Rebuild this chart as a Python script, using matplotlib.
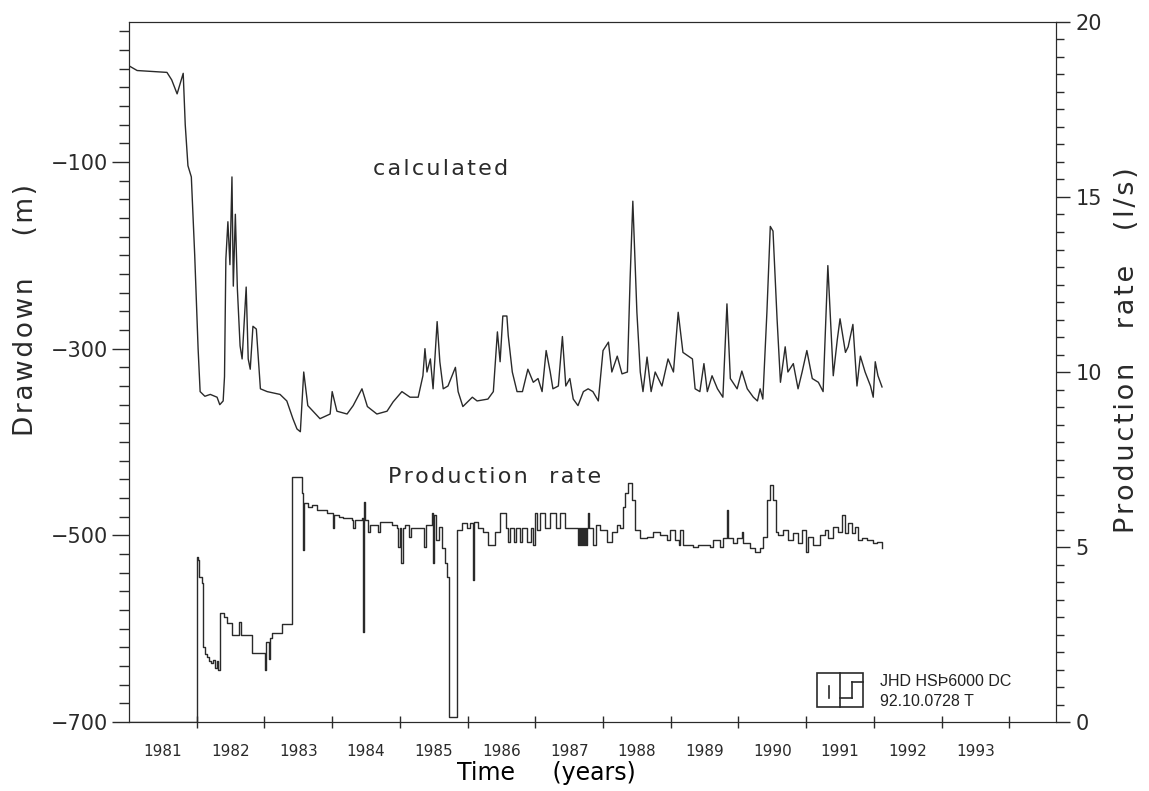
import numpy as np
import matplotlib.pyplot as plt
from matplotlib.ticker import MultipleLocator, FixedLocator, NullFormatter
from matplotlib.patches import Rectangle
from matplotlib.lines import Line2D

# calculated drawdown (m)
calc_year = [1981.00, 1981.12, 1981.56, 1981.63, 1981.71, 1981.76, 1981.80, 1981.83, 1981.87, 1981.92,
             1981.97, 1982.02, 1982.05, 1982.12, 1982.20, 1982.30, 1982.34, 1982.39, 1982.41, 1982.43,
             1982.46, 1982.49, 1982.52, 1982.54, 1982.57, 1982.60, 1982.64, 1982.67, 1982.73, 1982.76,
             1982.79, 1982.83, 1982.88, 1982.94, 1983.04, 1983.23, 1983.33, 1983.42, 1983.48, 1983.53,
             1983.58, 1983.64, 1983.82, 1983.97, 1984.00, 1984.07, 1984.22, 1984.31, 1984.44, 1984.52,
             1984.66, 1984.81, 1984.90, 1985.03, 1985.15, 1985.27, 1985.34, 1985.37, 1985.40, 1985.45,
             1985.49, 1985.55, 1985.59, 1985.64, 1985.71, 1985.82, 1985.86, 1985.93, 1986.07, 1986.14,
             1986.30, 1986.38, 1986.44, 1986.48, 1986.52, 1986.58, 1986.60, 1986.66, 1986.73, 1986.81,
             1986.89, 1986.97, 1987.04, 1987.10, 1987.16, 1987.22, 1987.26, 1987.34, 1987.40, 1987.45,
             1987.51, 1987.56, 1987.63, 1987.71, 1987.78, 1987.85, 1987.93, 1988.00, 1988.08, 1988.13,
             1988.21, 1988.28, 1988.36, 1988.40, 1988.44, 1988.50, 1988.55, 1988.59, 1988.65, 1988.71,
             1988.77, 1988.87, 1988.96, 1989.04, 1989.11, 1989.18, 1989.32, 1989.36, 1989.43, 1989.49,
             1989.54, 1989.61, 1989.69, 1989.77, 1989.83, 1989.88, 1989.98, 1990.05, 1990.13, 1990.22,
             1990.28, 1990.32, 1990.36, 1990.42, 1990.47, 1990.51, 1990.57, 1990.62, 1990.69, 1990.73,
             1990.81, 1990.88, 1990.94, 1991.01, 1991.09, 1991.18, 1991.25, 1991.32, 1991.40, 1991.46,
             1991.50, 1991.58, 1991.62, 1991.69, 1991.75, 1991.80, 1991.87, 1991.95, 1991.99, 1992.02,
             1992.06, 1992.12]
calc_dd = [3, -2, -4, -12, -27, -15, -5, -60, -104, -116,
           -200, -300, -346, -351, -349, -352, -360, -356, -330, -204,
           -164, -210, -116, -233, -156, -236, -297, -311, -234, -311,
           -322, -276, -279, -343, -346, -349, -356, -375, -386, -389,
           -325, -361, -375, -370, -346, -367, -370, -361, -343, -362,
           -370, -367, -357, -346, -352, -352, -329, -300, -325, -311,
           -343, -271, -314, -343, -340, -320, -346, -362, -352, -356,
           -354, -346, -282, -314, -265, -265, -286, -325, -346, -346,
           -322, -336, -332, -346, -302, -325, -343, -340, -287, -340,
           -332, -354, -361, -346, -343, -346, -356, -302, -293, -325,
           -308, -327, -325, -225, -142, -261, -325, -346, -309, -346,
           -325, -340, -311, -325, -261, -304, -311, -343, -346, -316,
           -346, -329, -343, -352, -252, -332, -343, -324, -343, -352,
           -356, -343, -354, -261, -169, -174, -268, -336, -298, -325,
           -316, -343, -325, -302, -332, -336, -346, -211, -329, -290,
           -268, -304, -298, -274, -340, -308, -325, -340, -352, -314,
           -329, -341]

# production rate (l/s), stepwise
prod_year = [1981.00, 1982.00, 1982.02, 1982.04, 1982.08, 1982.09, 1982.12, 1982.15, 1982.18, 1982.21,
             1982.24, 1982.27, 1982.30, 1982.32, 1982.34, 1982.40, 1982.45, 1982.52, 1982.63, 1982.65,
             1982.82, 1983.01, 1983.03, 1983.06, 1983.08, 1983.11, 1983.26, 1983.41, 1983.56, 1983.57,
             1983.59, 1983.64, 1983.70, 1983.78, 1983.92, 1984.01, 1984.03, 1984.10, 1984.16, 1984.30,
             1984.31, 1984.33, 1984.44, 1984.46, 1984.47, 1984.49, 1984.53, 1984.56, 1984.68, 1984.70,
             1984.88, 1984.96, 1984.97, 1985.00, 1985.02, 1985.04, 1985.08, 1985.14, 1985.16, 1985.36,
             1985.38, 1985.48, 1985.49, 1985.51, 1985.54, 1985.58, 1985.62, 1985.66, 1985.70, 1985.73,
             1985.84, 1985.92, 1985.99, 1986.04, 1986.08, 1986.09, 1986.15, 1986.23, 1986.30, 1986.40,
             1986.48, 1986.56, 1986.60, 1986.63, 1986.69, 1986.72, 1986.78, 1986.80, 1986.88, 1986.94,
             1986.97, 1987.00, 1987.03, 1987.07, 1987.15, 1987.22, 1987.30, 1987.37, 1987.44, 1987.63,
             1987.64, 1987.66, 1987.67, 1987.69, 1987.70, 1987.72, 1987.73, 1987.75, 1987.76, 1987.78,
             1987.80, 1987.85, 1987.90, 1987.96, 1988.06, 1988.13, 1988.21, 1988.25, 1988.29, 1988.33,
             1988.37, 1988.43, 1988.47, 1988.55, 1988.65, 1988.74, 1988.84, 1988.95, 1988.99, 1989.07,
             1989.12, 1989.14, 1989.18, 1989.33, 1989.40, 1989.58, 1989.63, 1989.73, 1989.77, 1989.83,
             1989.85, 1989.92, 1989.98, 1990.05, 1990.07, 1990.17, 1990.25, 1990.32, 1990.36, 1990.42,
             1990.47, 1990.51, 1990.55, 1990.59, 1990.66, 1990.73, 1990.81, 1990.88, 1990.94, 1990.99,
             1991.03, 1991.10, 1991.20, 1991.28, 1991.32, 1991.40, 1991.47, 1991.53, 1991.58, 1991.62,
             1991.68, 1991.72, 1991.77, 1991.83, 1991.90, 1991.99, 1992.05, 1992.12]
prod_rate = [0.0, 4.71, 4.63, 4.14, 3.97, 2.14, 1.95, 1.86, 1.75, 1.69,
             1.77, 1.55, 1.75, 1.49, 3.11, 3.00, 2.83, 2.49, 2.86, 2.49,
             1.97, 1.49, 2.29, 1.80, 2.40, 2.54, 2.80, 7.00, 6.54, 4.91,
             6.26, 6.14, 6.20, 6.06, 5.97, 5.54, 5.91, 5.86, 5.83, 5.77,
             5.54, 5.77, 5.83, 2.57, 6.29, 5.77, 5.43, 5.63, 5.43, 5.71,
             5.63, 5.54, 5.00, 5.54, 4.54, 5.54, 5.63, 5.29, 5.54, 5.00,
             5.63, 5.97, 4.54, 5.91, 5.20, 5.57, 4.97, 4.54, 4.14, 0.14,
             5.49, 5.69, 5.54, 5.69, 4.06, 5.71, 5.54, 5.43, 5.06, 5.43,
             5.97, 5.54, 5.14, 5.54, 5.14, 5.54, 5.14, 5.54, 5.14, 5.54,
             5.06, 5.97, 5.49, 5.97, 5.54, 5.97, 5.54, 5.97, 5.54, 5.06,
             5.54, 5.06, 5.54, 5.06, 5.54, 5.06, 5.54, 5.06, 5.54, 5.97,
             5.54, 5.06, 5.63, 5.49, 5.14, 5.43, 5.63, 5.54, 6.14, 6.54,
             6.83, 6.34, 5.49, 5.26, 5.29, 5.43, 5.34, 5.20, 5.49, 5.20,
             5.06, 5.49, 5.06, 5.00, 5.06, 5.00, 5.20, 5.00, 5.26, 6.06,
             5.26, 5.11, 5.26, 5.43, 5.11, 4.97, 4.86, 4.97, 5.29, 6.34,
             6.77, 6.34, 5.43, 5.34, 5.49, 5.20, 5.40, 5.11, 5.49, 4.86,
             5.29, 5.06, 5.34, 5.49, 5.26, 5.57, 5.43, 5.91, 5.40, 5.69,
             5.40, 5.57, 5.20, 5.26, 5.20, 5.11, 5.14, 4.97]

year_labels = [str(y) for y in range(1981, 1994)]


def spaced(s):
    # the plotter font is set a little wide; pad letters with hair spaces
    return '\u200a'.join(s)


ink = '#2a2a2a'
plt.rcParams['font.family'] = ['DejaVu Sans']
plt.rcParams['text.color'] = ink
plt.rcParams['axes.edgecolor'] = ink
plt.rcParams['xtick.color'] = ink
plt.rcParams['ytick.color'] = ink

fig = plt.figure(figsize=(11.49, 7.91), dpi=100)
ax = fig.add_axes([0.1123, 0.0872, 0.8068, 0.885])
ax2 = ax.twinx()

ax.plot(calc_year, calc_dd, color=ink, lw=1.0)
ax2.plot(prod_year, prod_rate, color=ink, lw=1.0, drawstyle='steps-post')

ax.set_xlim(1981, 1994.69)
ax.set_ylim(-700, 50)
ax2.set_ylim(0, 20)

# x: tick crosses at year boundaries, labels centred in each year
ax.xaxis.set_major_locator(FixedLocator(np.arange(1982, 1995)))
ax.xaxis.set_major_formatter(NullFormatter())
ax.xaxis.set_minor_locator(FixedLocator(np.arange(1981, 1994) + 0.5))
ax.set_xticklabels(year_labels, minor=True)
ax.tick_params(axis='x', which='major', direction='inout', length=8, width=1)
ax.tick_params(axis='x', which='minor', length=0, pad=16, labelsize=11)

ax.yaxis.set_major_locator(FixedLocator([-700, -500, -300, -100]))
ax.yaxis.set_minor_locator(MultipleLocator(20))
ax.tick_params(axis='y', which='major', direction='out', length=12, width=1, labelsize=15, pad=3)
ax.tick_params(axis='y', which='minor', direction='out', length=7, width=1)

ax2.yaxis.set_major_locator(MultipleLocator(5))
ax2.yaxis.set_minor_locator(MultipleLocator(0.5))
ax2.tick_params(axis='y', which='major', direction='out', length=10, width=1, labelsize=15, pad=4)
ax2.tick_params(axis='y', which='minor', direction='out', length=6, width=1)

ax.set_xlabel('Time     (years)', fontsize=17)
ax.xaxis.set_label_coords(0.45, -0.055)

fig.text(26 / 1149, 1 - 310 / 791, spaced('Drawdown') + '     ' + spaced('(m)'),
         rotation=90, fontsize=19, ha='center', va='center')
fig.text(1127 / 1149, 1 - 350 / 791, spaced('Production') + '    ' + spaced('rate') + '    ' + spaced('(l/s)'),
         rotation=90, fontsize=19.5, ha='center', va='center')

ax.text(1985.6, -107, spaced('calculated'), fontsize=16, ha='center', va='center')
ax2.text(1986.4, 7.0, spaced('Production') + '   ' + spaced('rate'), fontsize=16,
         ha='center', va='center', color=ink)

# JHD logo and plot id
fig.patches.append(Rectangle((817 / 1149, 1 - 707 / 791), 46 / 1149, 34 / 791,
                             transform=fig.transFigure, fill=False, ec=ink, lw=1.2))
for xs, ys in [([840, 840], [673, 707]), ([829, 829], [686, 698]),
               ([852, 863], [682, 682]), ([852, 852], [682, 698]), ([840, 852], [698, 698])]:
    fig.lines.append(Line2D([x / 1149 for x in xs], [1 - y / 791 for y in ys],
                            transform=fig.transFigure, color=ink, lw=1.2))
fig.text(880 / 1149, 1 - 681 / 791, 'JHD HSÞ6000 DC', fontsize=11.5, family='Liberation Sans',
         va='center', color='#222222')
fig.text(880 / 1149, 1 - 701 / 791, '92.10.0728 T', fontsize=11.5, family='Liberation Sans',
         va='center', color='#222222')

fig.savefig('out.png', dpi=100)
